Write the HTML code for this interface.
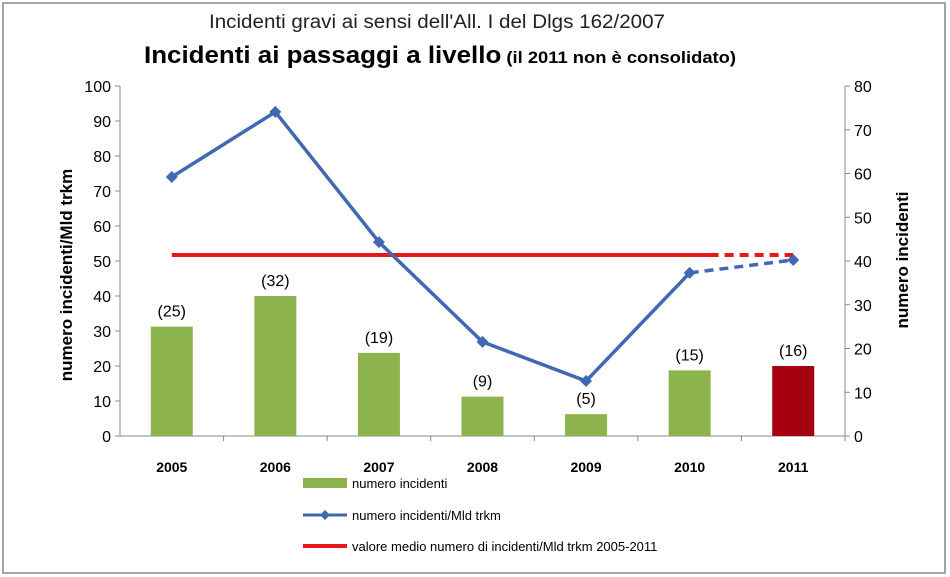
<!DOCTYPE html>
<html><head><meta charset="utf-8"><style>
body{margin:0;background:#fff;}
svg{display:block;font-family:"Liberation Sans",sans-serif;}
</style></head><body>
<svg id="chart" width="950" height="577" xmlns="http://www.w3.org/2000/svg">
<rect x="3" y="3" width="942" height="570" fill="#fff" stroke="#888" stroke-width="1.5"/>
<text x="437" y="28" text-anchor="middle" font-size="19" fill="#222" textLength="456" lengthAdjust="spacingAndGlyphs">Incidenti gravi ai sensi dell'All. I del Dlgs 162/2007</text>
<text x="440" y="63" text-anchor="middle" font-weight="bold" fill="#000" textLength="592" lengthAdjust="spacingAndGlyphs"><tspan font-size="24">Incidenti ai passaggi a livello</tspan><tspan font-size="17"> (il 2011 non è consolidato)</tspan></text>
<g id="axes"></g>
<g id="bars"></g>
<g id="lines"></g>
<text transform="translate(72,275) rotate(-90)" text-anchor="middle" font-size="17" font-weight="bold">numero incidenti/Mld trkm</text>
<text transform="translate(908,260) rotate(-90)" text-anchor="middle" font-size="17" font-weight="bold">numero incidenti</text>
<g>
<rect x="303" y="478" width="44" height="10" fill="#8db34e"/>
<text x="352" y="488" font-size="13">numero incidenti</text>
<line x1="303" y1="515" x2="347" y2="515" stroke="#4069b3" stroke-width="3"/>
<path d="M325 510 L330 515 L325 520 L320 515Z" fill="#4069b3"/>
<text x="352" y="520" font-size="13">numero incidenti/Mld trkm</text>
<line x1="303" y1="546" x2="347" y2="546" stroke="#e8171b" stroke-width="4"/>
<text x="352" y="551" font-size="13">valore medio numero di incidenti/Mld trkm 2005-2011</text>
</g>
</svg>
<script>
const categories=["2005","2006","2007","2008","2009","2010","2011"];
const incidents=[25,32,19,9,5,15,16];
const rateValues=[74,92.6,55.4,26.9,15.7,46.6,50.3];
const averageRate=[51.7];
const leftTicks=[0,10,20,30,40,50,60,70,80,90,100];
const rightTicks=[0,10,20,30,40,50,60,70,80];
const NS="http://www.w3.org/2000/svg";
const X0=120,X1=845,Y0=436,Y1=86;
const step=(X1-X0)/categories.length;
const xc=i=>X0+step*(i+0.5);
const yL=v=>Y0-(v/100)*(Y0-Y1);
const yR=v=>Y0-(v/80)*(Y0-Y1);
function mk(tag,attrs,parent){const e=document.createElementNS(NS,tag);for(const k in attrs)e.setAttribute(k,attrs[k]);parent.appendChild(e);return e;}
const axes=document.getElementById('axes'),bars=document.getElementById('bars'),lines=document.getElementById('lines');
let a=mk('line',{x1:X0,y1:Y1,x2:X0,y2:Y0,stroke:'#888'},axes);


a=mk('line',{x1:X1,y1:Y1,x2:X1,y2:Y0,stroke:'#888'},axes);


a=mk('line',{x1:X0,y1:Y0,x2:X1,y2:Y0,stroke:'#888'},axes);


leftTicks.forEach(v=>{mk('line',{x1:X0-5,y1:yL(v),x2:X0,y2:yL(v),stroke:'#888'},axes);
const t=mk('text',{x:X0-9,y:yL(v)+6,'text-anchor':'end','font-size':16},axes);t.textContent=v;

});
rightTicks.forEach(v=>{mk('line',{x1:X1,y1:yR(v),x2:X1+5,y2:yR(v),stroke:'#888'},axes);
const t=mk('text',{x:X1+9,y:yR(v)+6,'font-size':16},axes);t.textContent=v;

});
categories.forEach((c,i)=>{mk('line',{x1:X0+step*(i+1),y1:Y0,x2:X0+step*(i+1),y2:Y0+5,stroke:'#888'},axes);
const t=mk('text',{x:xc(i),y:472,'text-anchor':'middle','font-size':14,'font-weight':'bold'},axes);t.textContent=c;


const b=mk('rect',{x:xc(i)-21,y:yR(incidents[i]),width:42,height:Y0-yR(incidents[i]),fill:i===6?'#a50010':'#8db34e'},bars);


const l=mk('text',{x:xc(i),y:yR(incidents[i])-10,'text-anchor':'middle','font-size':16},bars);l.textContent='('+incidents[i]+')';

});
const ya=yL(averageRate[0]);
let m=mk('line',{x1:xc(0),y1:ya,x2:xc(5)+20,y2:ya,stroke:'#e8171b','stroke-width':4},lines);


m=mk('line',{x1:xc(5)+20,y1:ya,x2:xc(6),y2:ya,stroke:'#e8171b','stroke-width':4,'stroke-dasharray':'9 6'},lines);


let pts=rateValues.slice(0,6).map((v,i)=>xc(i)+','+yL(v)).join(' ');
m=mk('polyline',{points:pts,fill:'none',stroke:'#4069b3','stroke-width':3.5},lines);


m=mk('line',{x1:xc(5),y1:yL(rateValues[5]),x2:xc(6),y2:yL(rateValues[6]),stroke:'#4069b3','stroke-width':3.5,'stroke-dasharray':'9 6'},lines);


rateValues.forEach((v,i)=>{const x=xc(i),y=yL(v);
const p=mk('path',{d:`M${x} ${y-6}L${x+6} ${y}L${x} ${y+6}L${x-6} ${y}Z`,fill:'#4069b3'},lines);

});
</script>
</body></html>
